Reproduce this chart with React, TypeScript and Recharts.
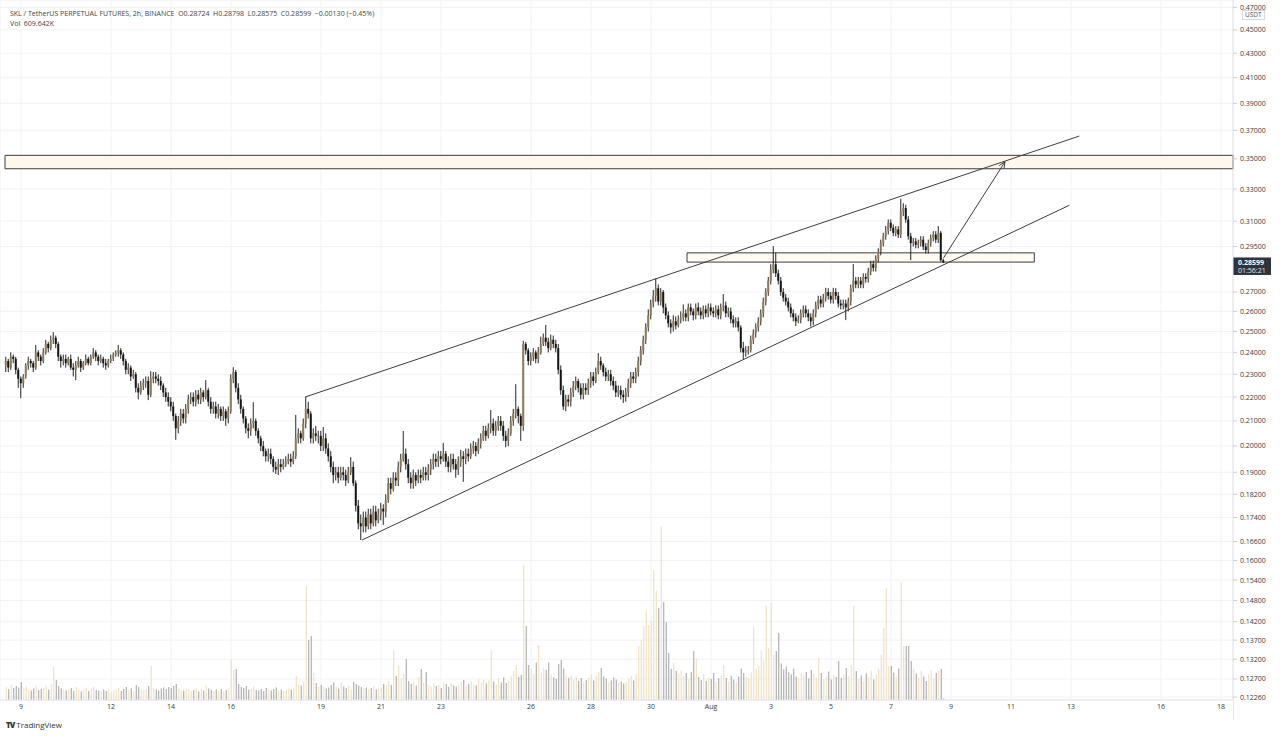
import {
  Bar,
  CartesianGrid,
  Cell,
  ComposedChart,
  ReferenceArea,
  ReferenceLine,
  XAxis,
  YAxis,
} from "recharts";

// 2h candles, first one on July 8 12:00 (x axis unit = day of July)
const START_DAY = 8.5;
const FIRST_OPEN = 0.234;

const closes = [
  0.236, 0.233, 0.238, 0.237, 0.232, 0.228, 0.226, 0.229, 0.234, 0.236, 0.235, 0.233,
  0.240, 0.238, 0.236, 0.240, 0.244, 0.242, 0.246, 0.247, 0.244, 0.238, 0.236, 0.237,
  0.235, 0.237, 0.233, 0.232, 0.234, 0.236, 0.233, 0.235, 0.237, 0.235, 0.238, 0.240,
  0.238, 0.236, 0.237, 0.235, 0.234, 0.236, 0.237, 0.239, 0.240, 0.241, 0.239, 0.236,
  0.232, 0.233, 0.229, 0.230, 0.224, 0.222, 0.225, 0.226, 0.227, 0.221, 0.228, 0.229,
  0.228, 0.227, 0.225, 0.222, 0.220, 0.218, 0.216, 0.212, 0.207, 0.210, 0.213, 0.211,
  0.215, 0.219, 0.220, 0.218, 0.221, 0.219, 0.222, 0.220, 0.223, 0.218, 0.215, 0.216,
  0.213, 0.215, 0.212, 0.214, 0.211, 0.214, 0.228, 0.231, 0.224, 0.219, 0.215, 0.211,
  0.207, 0.206, 0.209, 0.210, 0.206, 0.203, 0.200, 0.198, 0.196, 0.197, 0.195, 0.192,
  0.191, 0.193, 0.192, 0.193, 0.194, 0.195, 0.194, 0.196, 0.203, 0.205, 0.203, 0.209,
  0.215, 0.213, 0.203, 0.205, 0.204, 0.204, 0.200, 0.203, 0.199, 0.196, 0.192, 0.189,
  0.190, 0.188, 0.190, 0.189, 0.187, 0.190, 0.192, 0.186, 0.178, 0.172, 0.171, 0.174,
  0.171, 0.175, 0.172, 0.176, 0.173, 0.175, 0.177, 0.176, 0.180, 0.186, 0.184, 0.188,
  0.187, 0.192, 0.195, 0.197, 0.193, 0.188, 0.186, 0.189, 0.187, 0.189, 0.188, 0.190,
  0.189, 0.191, 0.193, 0.195, 0.194, 0.196, 0.195, 0.197, 0.194, 0.192, 0.195, 0.193,
  0.191, 0.194, 0.196, 0.195, 0.197, 0.196, 0.199, 0.200, 0.198, 0.201, 0.203, 0.206,
  0.204, 0.207, 0.209, 0.206, 0.208, 0.210, 0.208, 0.204, 0.202, 0.205, 0.210, 0.213,
  0.215, 0.212, 0.208, 0.244, 0.241, 0.236, 0.238, 0.240, 0.237, 0.240, 0.244, 0.247,
  0.245, 0.242, 0.246, 0.244, 0.242, 0.232, 0.223, 0.216, 0.219, 0.218, 0.222, 0.225,
  0.227, 0.224, 0.221, 0.224, 0.223, 0.226, 0.229, 0.227, 0.231, 0.236, 0.234, 0.231,
  0.229, 0.230, 0.227, 0.225, 0.222, 0.223, 0.221, 0.220, 0.222, 0.226, 0.229, 0.228,
  0.231, 0.236, 0.241, 0.246, 0.252, 0.258, 0.264, 0.268, 0.272, 0.265, 0.270, 0.262,
  0.258, 0.254, 0.252, 0.255, 0.253, 0.256, 0.257, 0.259, 0.257, 0.262, 0.260, 0.258,
  0.262, 0.260, 0.258, 0.261, 0.259, 0.262, 0.260, 0.259, 0.261, 0.258, 0.262, 0.263,
  0.259, 0.260, 0.256, 0.254, 0.255, 0.252, 0.242, 0.240, 0.241, 0.241, 0.246, 0.249,
  0.252, 0.255, 0.259, 0.265, 0.270, 0.276, 0.282, 0.285, 0.280, 0.276, 0.270, 0.267,
  0.265, 0.262, 0.259, 0.257, 0.255, 0.256, 0.259, 0.261, 0.259, 0.257, 0.255, 0.259,
  0.263, 0.266, 0.264, 0.267, 0.270, 0.268, 0.266, 0.270, 0.268, 0.264, 0.263, 0.264,
  0.262, 0.265, 0.272, 0.276, 0.274, 0.276, 0.274, 0.278, 0.277, 0.281, 0.285, 0.283,
  0.288, 0.292, 0.297, 0.301, 0.304, 0.309, 0.306, 0.303, 0.305, 0.302, 0.316, 0.318,
  0.311, 0.301, 0.297, 0.298, 0.296, 0.297, 0.299, 0.295, 0.293, 0.297, 0.300, 0.302,
  0.299, 0.303, 0.28724, 0.28599,
];

const highs = [
  0.238, 0.237, 0.240, 0.239, 0.238, 0.233, 0.229, 0.230, 0.235, 0.238, 0.237, 0.236,
  0.2435, 0.241, 0.239, 0.242, 0.246, 0.245, 0.248, 0.2497, 0.248, 0.245, 0.239, 0.239,
  0.239, 0.238, 0.239, 0.235, 0.236, 0.238, 0.237, 0.236, 0.239, 0.238, 0.239, 0.242,
  0.241, 0.239, 0.239, 0.238, 0.237, 0.237, 0.239, 0.240, 0.241, 0.2435, 0.242, 0.240,
  0.237, 0.235, 0.234, 0.232, 0.231, 0.226, 0.227, 0.228, 0.229, 0.229, 0.2314, 0.231,
  0.231, 0.230, 0.229, 0.226, 0.224, 0.222, 0.220, 0.218, 0.213, 0.212, 0.215, 0.215,
  0.217, 0.221, 0.222, 0.222, 0.223, 0.223, 0.224, 0.223, 0.2274, 0.224, 0.220, 0.218,
  0.218, 0.217, 0.216, 0.216, 0.215, 0.216, 0.230, 0.2332, 0.232, 0.226, 0.221, 0.216,
  0.212, 0.209, 0.211, 0.2178, 0.211, 0.207, 0.204, 0.202, 0.199, 0.199, 0.199, 0.196,
  0.194, 0.195, 0.195, 0.195, 0.196, 0.197, 0.197, 0.198, 0.2125, 0.207, 0.206, 0.211,
  0.2200, 0.218, 0.214, 0.207, 0.208, 0.206, 0.206, 0.2075, 0.205, 0.201, 0.198, 0.194,
  0.192, 0.192, 0.192, 0.192, 0.191, 0.192, 0.1957, 0.194, 0.187, 0.180, 0.175, 0.176,
  0.176, 0.177, 0.177, 0.178, 0.178, 0.177, 0.179, 0.1785, 0.182, 0.188, 0.188, 0.190,
  0.190, 0.194, 0.197, 0.2059, 0.199, 0.195, 0.190, 0.191, 0.190, 0.191, 0.191, 0.192,
  0.192, 0.193, 0.195, 0.197, 0.197, 0.198, 0.198, 0.2012, 0.198, 0.196, 0.197, 0.197,
  0.195, 0.196, 0.1985, 0.198, 0.199, 0.199, 0.201, 0.202, 0.2015, 0.203, 0.205, 0.208,
  0.208, 0.209, 0.2145, 0.211, 0.210, 0.212, 0.212, 0.210, 0.206, 0.207, 0.212, 0.215,
  0.2256, 0.216, 0.213, 0.2455, 0.245, 0.242, 0.240, 0.242, 0.241, 0.2425, 0.2475, 0.249,
  0.2532, 0.247, 0.2485, 0.248, 0.246, 0.244, 0.234, 0.225, 0.221, 0.221, 0.224, 0.227,
  0.229, 0.228, 0.226, 0.226, 0.226, 0.228, 0.231, 0.231, 0.233, 0.2397, 0.238, 0.235,
  0.233, 0.232, 0.232, 0.229, 0.227, 0.225, 0.225, 0.223, 0.224, 0.228, 0.231, 0.231,
  0.233, 0.238, 0.243, 0.248, 0.254, 0.261, 0.266, 0.271, 0.2773, 0.274, 0.272, 0.271,
  0.264, 0.260, 0.256, 0.258, 0.2575, 0.258, 0.260, 0.2635, 0.261, 0.264, 0.264, 0.2615,
  0.264, 0.2645, 0.262, 0.263, 0.263, 0.264, 0.264, 0.262, 0.263, 0.263, 0.264, 0.2689,
  0.265, 0.262, 0.262, 0.258, 0.257, 0.257, 0.253, 0.245, 0.243, 0.243, 0.248, 0.251,
  0.254, 0.257, 0.261, 0.267, 0.272, 0.278, 0.285, 0.2952, 0.2915, 0.282, 0.278, 0.272,
  0.269, 0.267, 0.264, 0.261, 0.259, 0.258, 0.261, 0.263, 0.263, 0.261, 0.259, 0.261,
  0.265, 0.268, 0.268, 0.269, 0.2722, 0.272, 0.270, 0.2722, 0.272, 0.270, 0.266, 0.266,
  0.266, 0.267, 0.274, 0.2851, 0.278, 0.278, 0.278, 0.280, 0.280, 0.283, 0.287, 0.287,
  0.290, 0.294, 0.299, 0.303, 0.307, 0.311, 0.311, 0.308, 0.307, 0.307, 0.3238, 0.321,
  0.320, 0.313, 0.303, 0.300, 0.300, 0.299, 0.301, 0.301, 0.297, 0.299, 0.302, 0.304,
  0.304, 0.307, 0.304, 0.28798,
];

const lows = [
  0.231, 0.231, 0.232, 0.235, 0.230, 0.224, 0.2195, 0.224, 0.228, 0.232, 0.233, 0.231,
  0.232, 0.236, 0.234, 0.235, 0.239, 0.240, 0.241, 0.244, 0.242, 0.236, 0.233, 0.234,
  0.233, 0.234, 0.232, 0.229, 0.2274, 0.233, 0.231, 0.232, 0.234, 0.234, 0.234, 0.237,
  0.236, 0.234, 0.235, 0.233, 0.232, 0.233, 0.235, 0.236, 0.238, 0.238, 0.237, 0.234,
  0.230, 0.230, 0.227, 0.228, 0.222, 0.219, 0.221, 0.223, 0.224, 0.2187, 0.220, 0.226,
  0.226, 0.225, 0.223, 0.220, 0.218, 0.216, 0.214, 0.210, 0.2024, 0.205, 0.208, 0.209,
  0.209, 0.213, 0.217, 0.216, 0.216, 0.217, 0.217, 0.218, 0.219, 0.216, 0.213, 0.213,
  0.211, 0.211, 0.210, 0.210, 0.208, 0.209, 0.213, 0.226, 0.222, 0.217, 0.213, 0.209,
  0.205, 0.203, 0.204, 0.207, 0.204, 0.201, 0.198, 0.196, 0.194, 0.194, 0.193, 0.190,
  0.1894, 0.189, 0.190, 0.191, 0.192, 0.193, 0.192, 0.193, 0.195, 0.201, 0.201, 0.202,
  0.207, 0.211, 0.201, 0.201, 0.202, 0.201, 0.198, 0.198, 0.197, 0.194, 0.190, 0.186,
  0.187, 0.186, 0.187, 0.187, 0.185, 0.186, 0.189, 0.185, 0.176, 0.170, 0.1665, 0.169,
  0.169, 0.170, 0.170, 0.171, 0.171, 0.172, 0.173, 0.1715, 0.174, 0.179, 0.182, 0.183,
  0.185, 0.185, 0.190, 0.194, 0.191, 0.186, 0.184, 0.184, 0.185, 0.186, 0.186, 0.187,
  0.187, 0.187, 0.189, 0.191, 0.192, 0.192, 0.193, 0.194, 0.192, 0.190, 0.190, 0.191,
  0.188, 0.189, 0.192, 0.1865, 0.193, 0.194, 0.195, 0.197, 0.196, 0.197, 0.199, 0.202,
  0.202, 0.203, 0.205, 0.204, 0.204, 0.206, 0.206, 0.202, 0.1995, 0.200, 0.204, 0.208,
  0.211, 0.209, 0.202, 0.206, 0.239, 0.234, 0.234, 0.236, 0.235, 0.235, 0.239, 0.243,
  0.243, 0.240, 0.241, 0.242, 0.240, 0.230, 0.221, 0.2145, 0.214, 0.216, 0.216, 0.220,
  0.223, 0.222, 0.219, 0.219, 0.221, 0.221, 0.224, 0.225, 0.226, 0.230, 0.232, 0.229,
  0.227, 0.227, 0.225, 0.223, 0.220, 0.220, 0.219, 0.2175, 0.218, 0.220, 0.224, 0.226,
  0.226, 0.229, 0.234, 0.239, 0.244, 0.250, 0.256, 0.262, 0.265, 0.263, 0.263, 0.259,
  0.256, 0.252, 0.249, 0.250, 0.251, 0.252, 0.254, 0.255, 0.255, 0.255, 0.258, 0.2555,
  0.256, 0.258, 0.256, 0.256, 0.257, 0.257, 0.258, 0.257, 0.257, 0.256, 0.256, 0.260,
  0.257, 0.257, 0.254, 0.252, 0.252, 0.250, 0.240, 0.2369, 0.238, 0.239, 0.240, 0.244,
  0.247, 0.250, 0.253, 0.257, 0.263, 0.268, 0.274, 0.280, 0.278, 0.274, 0.268, 0.265,
  0.263, 0.260, 0.257, 0.255, 0.2527, 0.254, 0.254, 0.257, 0.257, 0.255, 0.2525, 0.253,
  0.257, 0.261, 0.262, 0.262, 0.265, 0.266, 0.264, 0.264, 0.266, 0.262, 0.261, 0.261,
  0.2556, 0.260, 0.263, 0.270, 0.272, 0.272, 0.272, 0.272, 0.275, 0.275, 0.279, 0.281,
  0.281, 0.286, 0.290, 0.295, 0.299, 0.302, 0.304, 0.301, 0.301, 0.300, 0.300, 0.313,
  0.309, 0.299, 0.2873, 0.295, 0.294, 0.294, 0.295, 0.293, 0.291, 0.291, 0.295, 0.298,
  0.297, 0.297, 0.2865, 0.28575,
];

// volume in millions
const volumes = [
  5.2, 4.4, 6.0, 4.8, 5.6, 5.0, 7.2, 4.6, 5.4, 4.2, 3.8, 4.6,
  5.8, 4.0, 4.4, 5.0, 5.6, 4.2, 6.4, 13.2, 8.0, 5.6, 4.6, 4.0,
  3.8, 4.4, 4.8, 3.6, 5.2, 4.0, 3.4, 4.2, 5.0, 3.6, 4.4, 5.2,
  4.0, 3.8, 3.4, 4.2, 3.6, 4.6, 3.2, 4.0, 3.8, 4.8, 3.6, 4.4,
  5.2, 4.0, 4.6, 3.6, 6.0, 5.2, 4.0, 3.8, 4.4, 5.6, 13.6, 5.0,
  4.2, 3.8, 4.6, 5.0, 4.4, 5.2, 4.8, 5.6, 6.4, 4.6, 4.0, 3.8,
  4.6, 4.2, 3.6, 4.0, 4.8, 3.4, 4.4, 3.8, 5.6, 4.6, 4.0, 3.6,
  4.2, 3.8, 4.4, 3.6, 4.0, 5.0, 16.4, 12.0, 12.4, 6.4, 5.2, 4.8,
  5.6, 4.2, 4.6, 5.4, 4.0, 3.8, 4.4, 3.6, 4.8, 4.2, 3.8, 4.4,
  5.0, 3.8, 4.2, 3.6, 4.0, 4.6, 4.2, 5.0, 9.6, 6.4, 5.8, 7.2,
  45.6, 24.0, 25.6, 10.8, 6.8, 5.4, 6.0, 5.2, 4.6, 5.0, 6.0, 7.0,
  5.2, 4.6, 7.0, 5.4, 4.8, 5.6, 4.2, 7.2, 6.4, 5.8, 5.2, 4.8,
  5.0, 4.4, 4.8, 5.6, 4.2, 4.6, 5.0, 6.4, 5.8, 7.6, 6.0, 20.0,
  9.6, 13.6, 8.8, 10.4, 16.4, 7.6, 6.4, 7.2, 5.8, 9.2, 12.4, 7.0,
  11.2, 6.0, 5.4, 6.8, 5.6, 6.2, 4.8, 7.0, 6.4, 5.2, 6.6, 5.8,
  5.4, 6.0, 7.2, 8.0, 5.6, 6.4, 7.4, 6.2, 5.8, 8.4, 7.0, 8.2,
  6.6, 7.8, 19.6, 7.4, 6.2, 8.6, 7.0, 9.0, 6.8, 7.6, 9.4, 11.6,
  14.0, 9.2, 10.0, 54.0, 29.6, 14.0, 12.4, 10.6, 15.0, 22.0, 11.0, 12.8,
  12.0, 15.0, 10.2, 9.0, 8.4, 14.4, 16.0, 12.6, 10.0, 8.8, 9.6, 8.2,
  9.4, 7.6, 8.8, 7.2, 8.0, 9.0, 10.4, 7.8, 9.6, 11.2, 12.8, 9.4,
  8.6, 7.0, 7.8, 9.0, 8.2, 6.8, 7.4, 6.6, 7.2, 8.8, 9.6, 7.8,
  10.2, 21.6, 24.0, 29.6, 36.0, 30.0, 31.6, 52.0, 43.6, 36.8, 69.6, 39.2,
  31.2, 18.8, 12.4, 14.8, 11.6, 10.4, 12.0, 9.6, 10.8, 8.4, 11.2, 19.6,
  16.8, 9.2, 8.0, 10.4, 7.6, 9.0, 8.4, 10.8, 7.2, 8.6, 9.8, 14.0,
  8.8, 7.4, 9.6, 8.2, 7.0, 9.4, 12.6, 10.8, 9.2, 8.6, 11.0, 29.6,
  12.4, 13.6, 19.6, 16.0, 37.6, 20.8, 38.8, 18.0, 19.6, 26.8, 14.6, 12.2,
  13.4, 11.0, 10.2, 12.6, 9.4, 8.8, 10.6, 9.8, 11.2, 8.6, 12.0, 10.4,
  9.0, 16.8, 10.8, 8.4, 9.6, 11.4, 8.2, 10.0, 9.2, 15.6, 8.8, 10.4,
  12.8, 9.6, 14.0, 37.6, 11.6, 8.4, 9.8, 7.6, 10.6, 9.0, 11.8, 8.2,
  10.0, 12.4, 18.0, 28.8, 44.8, 13.6, 13.6, 11.0, 9.4, 12.6, 47.2, 21.6,
  21.6, 21.6, 15.6, 12.4, 10.6, 8.8, 11.8, 9.4, 7.6, 10.2, 12.0, 8.6,
  10.8, 11.6, 12.4, 0.61,
];

const dayTicks = [9, 12, 14, 16, 19, 21, 23, 26, 28, 30, 32, 34, 36, 38, 40, 42, 44, 47, 49];
const dayLabels = ["9", "12", "14", "16", "19", "21", "23", "26", "28", "30", "Aug", "3", "5", "7", "9", "11", "13", "16", "18"];

const priceTicks = [
  0.47, 0.45, 0.43, 0.41, 0.39, 0.37, 0.35, 0.33, 0.31, 0.295, 0.27, 0.26, 0.25, 0.24,
  0.23, 0.22, 0.21, 0.2, 0.19, 0.182, 0.174, 0.166, 0.16, 0.154, 0.148, 0.142, 0.137,
  0.132, 0.127, 0.1226,
];

// drawings (day of July, price)
const upperChannel = [{ x: 18.467, y: 0.22 }, { x: 44.277, y: 0.3659 }];
const lowerChannel = [{ x: 20.367, y: 0.1665 }, { x: 43.943, y: 0.3197 }];
const arrowPath = [{ x: 39.743, y: 0.2883 }, { x: 41.8, y: 0.348 }];
const resistanceZone = { x1: 8.467, x2: 49.4, y1: 0.3433, y2: 0.3524 };
const supportBox = { x1: 31.2, x2: 42.777, y1: 0.2862, y2: 0.2914 };
const LAST_PRICE = 0.28599;

const UP = "#8f7b58";
const DOWN = "#161616";
const WICK = "#262626";
const VOL_UP = "#efdcb8";
const VOL_DOWN = "#a0a0a0";
const LINE = "#3d3d3d";
const FONT = "'Open Sans', 'Noto Sans', sans-serif";

const candles = closes.map((close, i) => {
  const open = i === 0 ? FIRST_OPEN : closes[i - 1];
  return {
    t: START_DAY + i / 12,
    open,
    close,
    high: Math.max(highs[i], open, close),
    low: Math.min(lows[i], open, close),
    vol: volumes[i],
  };
});

function Candle(props: any) {
  const { x, y, width, height, payload } = props;
  if (x == null || y == null || !payload) return null;
  const { open, close, high, low } = payload;
  const lh = Math.log(high);
  const span = lh - Math.log(low);
  // log scale: position is linear in log(price) between high and low
  const toY = (v: number) => (span > 0 ? y + ((lh - Math.log(v)) / span) * height : y);
  const cx = x + width / 2;
  const top = toY(Math.max(open, close));
  const bottom = toY(Math.min(open, close));
  return (
    <g>
      <line x1={cx} x2={cx} y1={y} y2={y + height} stroke={WICK} strokeWidth={1} />
      <rect
        x={x}
        y={top}
        width={width}
        height={Math.max(bottom - top, 1)}
        fill={close >= open ? UP : DOWN}
      />
    </g>
  );
}

function ArrowLine(props: any) {
  const { x1, y1, x2, y2 } = props;
  const ang = Math.atan2(y2 - y1, x2 - x1);
  const len = 7;
  const a1 = ang + Math.PI - 0.42;
  const a2 = ang + Math.PI + 0.42;
  return (
    <g>
      <line x1={x1} y1={y1} x2={x2} y2={y2} stroke={LINE} strokeWidth={1} />
      <polyline
        points={`${x2 + len * Math.cos(a1)},${y2 + len * Math.sin(a1)} ${x2},${y2} ${x2 + len * Math.cos(a2)},${y2 + len * Math.sin(a2)}`}
        fill="none"
        stroke={LINE}
        strokeWidth={1}
      />
    </g>
  );
}

function PriceTag(props: any) {
  const vb = props.viewBox;
  if (!vb) return null;
  const x = vb.x + vb.width;
  const y = vb.y;
  return (
    <g>
      <line x1={x} x2={x + 3} y1={y} y2={y} stroke="#2f333e" />
      <rect x={x} y={y - 5} width={38} height={17.5} fill="#2f333e" />
      <text x={x + 5} y={y + 2.6} fontSize={7} fill="#fff" fontWeight={700} fontFamily={FONT}>
        {LAST_PRICE.toFixed(5)}
      </text>
      <text x={x + 5} y={y + 10.6} fontSize={7} fill="#e6e6e6" fontFamily={FONT}>
        01:56:21
      </text>
    </g>
  );
}

export default function App() {
  const textStyle = { fontSize: 7, fill: "#3a3a3a", fontFamily: FONT };
  return (
    <div
      style={{
        position: "absolute",
        left: 0,
        top: 0,
        width: 1280,
        height: 736,
        background: "#fff",
        fontFamily: FONT,
        overflow: "hidden",
      }}
    >
      <ComposedChart
        width={1280}
        height={736}
        data={candles}
        margin={{ top: 0, right: 0, bottom: 0, left: 0 }}
      >
        <CartesianGrid stroke="#f1f2f5" />
        <XAxis
          dataKey="t"
          type="number"
          domain={[8.3, 49.4]}
          ticks={dayTicks}
          tickFormatter={(v) => dayLabels[dayTicks.indexOf(v)] ?? ""}
          interval={0}
          height={36}
          tickSize={0}
          tickMargin={4}
          tick={textStyle}
          axisLine={{ stroke: "#e3e5ea" }}
          allowDataOverflow
        />
        <XAxis xAxisId="vol" dataKey="t" type="number" domain={[8.3, 49.4]} hide allowDataOverflow />
        <YAxis
          orientation="right"
          scale="log"
          domain={[0.1219, 0.477]}
          ticks={priceTicks}
          interval={0}
          tickFormatter={(v) => Number(v).toFixed(5)}
          width={47}
          tickSize={4}
          tickMargin={3}
          tick={{ ...textStyle, textAnchor: "start" }}
          tickLine={{ stroke: "#c9ccd3" }}
          axisLine={{ stroke: "#e3e5ea" }}
          allowDataOverflow
        />
        <YAxis yAxisId="vol" domain={[0, 280]} hide />

        <ReferenceArea
          {...resistanceZone}
          fill="#fff7eb"
          fillOpacity={1}
          stroke={LINE}
          strokeWidth={1}
          ifOverflow="visible"
        />

        <Bar xAxisId="vol" yAxisId="vol" dataKey="vol" barSize={1} isAnimationActive={false}>
          {candles.map((c, i) => (
            <Cell key={i} fill={c.close >= c.open ? VOL_UP : VOL_DOWN} />
          ))}
        </Bar>
        <Bar
          dataKey={(d: any) => [d.low, d.high]}
          barSize={2}
          shape={Candle}
          isAnimationActive={false}
        />

        <ReferenceArea
          {...supportBox}
          fill="#fff6e8"
          fillOpacity={0.55}
          stroke={LINE}
          strokeWidth={1}
          ifOverflow="visible"
        />
        <ReferenceLine segment={upperChannel} stroke={LINE} strokeWidth={1} ifOverflow="visible" />
        <ReferenceLine segment={lowerChannel} stroke={LINE} strokeWidth={1} ifOverflow="visible" />
        <ReferenceLine segment={arrowPath} shape={ArrowLine} ifOverflow="visible" />
        <ReferenceLine y={LAST_PRICE} stroke="#000" strokeOpacity={0} label={<PriceTag />} />
      </ComposedChart>

      {/* legend header */}
      <div style={{ position: "absolute", left: 10, top: 9, fontSize: 7, color: "#444", whiteSpace: "pre", lineHeight: "10px" }}>
        {"SKL / TetherUS PERPETUAL FUTURES, 2h, BINANCE  O0.28724  H0.28798  L0.28575  C0.28599  −0.00130 (−0.45%)"}
      </div>
      <div style={{ position: "absolute", left: 10, top: 19, fontSize: 7, color: "#444", whiteSpace: "pre", lineHeight: "10px" }}>
        {"Vol  609.642K"}
      </div>

      {/* currency box on the price scale */}
      <div
        style={{
          position: "absolute",
          left: 1242,
          top: 10,
          fontSize: 6.5,
          color: "#555",
          border: "1px solid #d6d8de",
          background: "#fff",
          padding: "0 2px",
          lineHeight: "8px",
        }}
      >
        USDT
      </div>
      <div style={{ position: "absolute", left: 1233, top: 700, width: 1, height: 20, background: "#e3e5ea" }} />

      {/* watermark */}
      <div style={{ position: "absolute", left: 6, top: 719, fontSize: 8, color: "#333", display: "flex", alignItems: "center", gap: 2 }}>
        <span style={{ fontWeight: 900, letterSpacing: -1, fontSize: 8 }}>TV</span>
        <span>TradingView</span>
      </div>
    </div>
  );
}
